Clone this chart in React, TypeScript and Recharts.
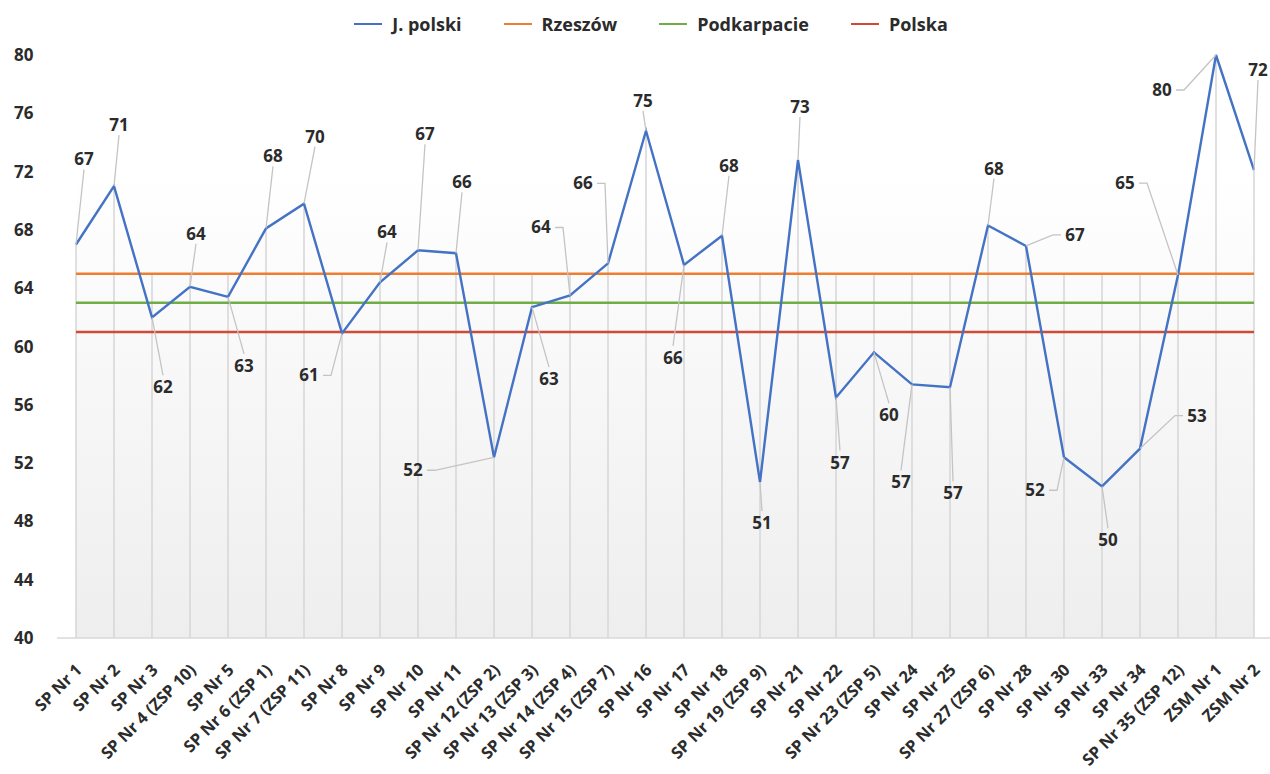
import React from "react";
import {
  LineChart,
  Line,
  XAxis,
  YAxis,
  ReferenceLine,
  ReferenceArea,
  LabelList,
} from "recharts";

const schools = [
  "SP Nr 1",
  "SP Nr 2",
  "SP Nr 3",
  "SP Nr 4 (ZSP 10)",
  "SP Nr 5",
  "SP Nr 6 (ZSP 1)",
  "SP Nr 7 (ZSP 11)",
  "SP Nr 8",
  "SP Nr 9",
  "SP Nr 10",
  "SP Nr 11",
  "SP Nr 12 (ZSP 2)",
  "SP Nr 13 (ZSP 3)",
  "SP Nr 14 (ZSP 4)",
  "SP Nr 15 (ZSP 7)",
  "SP Nr 16",
  "SP Nr 17",
  "SP Nr 18",
  "SP Nr 19 (ZSP 9)",
  "SP Nr 21",
  "SP Nr 22",
  "SP Nr 23 (ZSP 5)",
  "SP Nr 24",
  "SP Nr 25",
  "SP Nr 27 (ZSP 6)",
  "SP Nr 28",
  "SP Nr 30",
  "SP Nr 33",
  "SP Nr 34",
  "SP Nr 35 (ZSP 12)",
  "ZSM Nr 1",
  "ZSM Nr 2",
];

// wyniki szkół (j. polski)
const jPolski = [
  67.0, 71.0, 62.0, 64.1, 63.4, 68.1, 69.8, 60.9, 64.4, 66.6, 66.4, 52.4, 62.7, 63.5, 65.7, 74.8,
  65.6, 67.6, 50.7, 72.8, 56.5, 59.6, 57.4, 57.2, 68.3, 66.9, 52.4, 50.4, 53.0, 64.9, 80.0, 72.1,
];

const rzeszowAvg = 65;
const podkarpacieAvg = 63;
const polskaAvg = 61;

const yTicks = [40, 44, 48, 52, 56, 60, 64, 68, 72, 76, 80];

// where each data label sits relative to its point (px)
const labelOffsets: [number, number][] = [
  [8, -85], [5, -61], [11, 70], [6, -53], [16, 69], [7, -72], [11, -67], [-33, 42],
  [7, -50], [7, -116], [6, -71], [-81, 13], [17, 72], [-29, -68], [-25, -80], [-3, -30],
  [-11, 93], [7, -70], [2, 41], [2, -53], [4, 65], [15, 63], [-11, 98], [3, 106],
  [6, -57], [49, -11], [-29, 33], [6, 54], [57, -33], [-53, -92], [-54, 35], [4, -100],
];

const data = schools.map((name, i) => ({
  name,
  jPolski: jPolski[i],
  rzeszow: rzeszowAvg,
  podkarpacie: podkarpacieAvg,
  polska: polskaAvg,
}));

const legendItems = [
  { name: "J. polski", color: "#4472C4" },
  { name: "Rzeszów", color: "#ED7D31" },
  { name: "Podkarpacie", color: "#70AD47" },
  { name: "Polska", color: "#D04A35" },
];

const FONT = "'Open Sans', sans-serif";
const TEXT = "#2b2b2b";

function PointLabel(props: any) {
  const { x, y, value, index } = props;
  const [dx, dy] = labelOffsets[index] || [0, -20];
  const lx = x + dx;
  const ly = y + dy;
  let path = "";
  if (Math.hypot(dx, dy) > 28) {
    if (Math.abs(dx) >= 25) {
      const s = dx > 0 ? -1 : 1;
      const ax = lx + s * 14;
      path = `M${ax},${ly} L${ax + s * 8},${ly} L${x},${y}`;
    } else {
      const ay = dy < 0 ? ly + 10 : ly - 12;
      path = `M${lx},${ay} L${x},${y}`;
    }
  }
  return (
    <g>
      {path && <path d={path} stroke="#c4c4c4" strokeWidth={1.3} fill="none" />}
      <text
        x={lx}
        y={ly + 6}
        textAnchor="middle"
        fontFamily={FONT}
        fontWeight={700}
        fontSize={17}
        fill={TEXT}
      >
        {Math.round(value)}
      </text>
    </g>
  );
}

function XTick(props: any) {
  const { x, y, payload } = props;
  const ax = x + 7;
  const ay = y + 25;
  return (
    <text
      x={ax}
      y={ay}
      transform={`rotate(-45 ${ax} ${ay})`}
      textAnchor="end"
      fontFamily={FONT}
      fontWeight={700}
      fontSize={16.5}
      fill={TEXT}
    >
      {payload.value}
    </text>
  );
}

function YTick(props: any) {
  const { y, payload } = props;
  return (
    <text x={14} y={y + 6} textAnchor="start" fontFamily={FONT} fontWeight={700} fontSize={17} fill={TEXT}>
      {payload.value}
    </text>
  );
}

export default function App() {
  return (
    <div style={{ position: "relative", width: 1270, height: 774, overflow: "hidden", background: "#fff" }}>
      <style>{"body{margin:0}"}</style>
      <div
        style={{
          position: "absolute",
          top: 12,
          left: 0,
          width: 1302,
          display: "flex",
          justifyContent: "center",
          gap: 42,
          fontFamily: FONT,
          fontWeight: 700,
          fontSize: 18,
          color: TEXT,
        }}
      >
        {legendItems.map((it) => (
          <div key={it.name} style={{ display: "flex", alignItems: "center", gap: 10 }}>
            <span style={{ display: "inline-block", width: 28, height: 2.5, background: it.color }} />
            <span>{it.name}</span>
          </div>
        ))}
      </div>
      <LineChart width={1273} height={774} data={data} margin={{ top: 55, right: 0, bottom: 0, left: 0 }}>
        <defs>
          <linearGradient id="plotBg" x1="0" y1="0" x2="0" y2="1">
            <stop offset="0%" stopColor="#ffffff" />
            <stop offset="20%" stopColor="#ffffff" />
            <stop offset="100%" stopColor="#eeeeee" />
          </linearGradient>
        </defs>
        <XAxis
          dataKey="name"
          interval={0}
          padding={{ left: 19, right: 19 }}
          height={136}
          tickLine={false}
          axisLine={{ stroke: "#d9d9d9", strokeWidth: 1.5 }}
          tick={<XTick />}
        />
        <YAxis
          domain={[40, 80]}
          ticks={yTicks}
          width={57}
          axisLine={false}
          tickLine={false}
          tick={<YTick />}
        />
        <ReferenceArea y1={40} y2={80} fill="url(#plotBg)" fillOpacity={1} stroke="none" />
        {data.map((d) => (
          <ReferenceLine
            key={d.name}
            segment={[
              { x: d.name, y: 40 },
              { x: d.name, y: Math.max(d.jPolski, rzeszowAvg) },
            ]}
            stroke="#d6d6d6"
            strokeWidth={1.5}
          />
        ))}
        <Line dataKey="rzeszow" name="Rzeszów" stroke="#ED7D31" strokeWidth={2.5} dot={false} isAnimationActive={false} />
        <Line dataKey="podkarpacie" name="Podkarpacie" stroke="#70AD47" strokeWidth={2.5} dot={false} isAnimationActive={false} />
        <Line dataKey="polska" name="Polska" stroke="#D04A35" strokeWidth={2.5} dot={false} isAnimationActive={false} />
        <Line dataKey="jPolski" name="J. polski" stroke="#4472C4" strokeWidth={2.4} dot={false} isAnimationActive={false}>
          <LabelList dataKey="jPolski" content={<PointLabel />} />
        </Line>
      </LineChart>
    </div>
  );
}
